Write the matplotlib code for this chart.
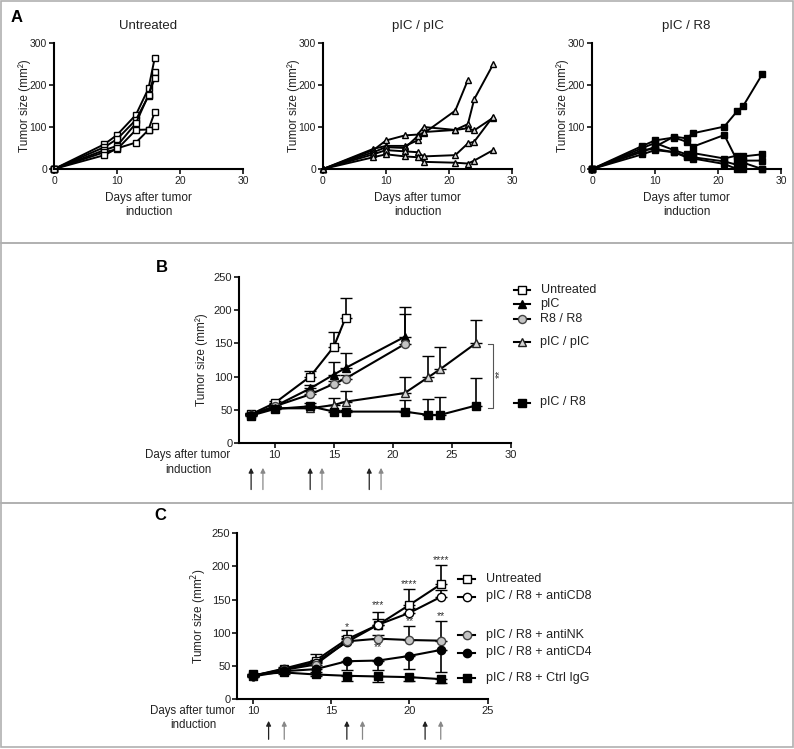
import numpy as np
import matplotlib.pyplot as plt
from matplotlib.patches import Rectangle

plt.rcParams['font.family'] = ['Liberation Sans', 'DejaVu Sans']

nan = np.nan

# ---- Panel A: individual mice ----
untreated_days = [0, 8, 10, 13, 15, 16]
untreated_mice = [
    [0, 59, 81, 129, 192, 265],
    [0, 52, 71, 117, 174, 230],
    [0, 45, 55, 109, 176, 216],
    [0, 40, 47, 93, 94, 136],
    [0, 33, 49, 63, 93, 102],
]
late_days = [0, 8, 10, 13, 15, 16, 21, 23, 24, 27]
picpic_mice = [
    [0, 48, 55, 55, 68, 85, 139, 212, nan, nan],
    [0, 45, 68, 80, 82, 100, 93, 107, 166, 249],
    [0, 40, 52, 50, 78, 88, 93, 97, 92, 122],
    [0, 35, 45, 42, 40, 30, 33, 61, 65, 125],
    [0, 28, 35, 30, 28, 17, 15, 13, 20, 45],
]
picr8_mice = [
    [0, 41, 53, 77, 73, 85, 101, 137, 150, 225],
    [0, 55, 68, 75, 65, 53, 81, 21, 15, 0],
    [0, 50, 62, 45, 35, 38, 25, 32, 30, 35],
    [0, 45, 48, 40, 28, 28, 18, 10, 20, 20],
    [0, 35, 45, 40, 30, 25, 12, 0, 0, 0],
]
a_titles = ['Untreated', 'pIC / pIC', 'pIC / R8']

# ---- Panel B: group means + SEM ----
b_days_short = [8, 10, 13, 15, 16]
b_days_mid = [8, 10, 13, 15, 16, 21]
b_days_long = [8, 10, 13, 15, 16, 21, 23, 24, 27]
b_untreated = [43, 60, 100, 145, 189]
b_untreated_sem = [2, 3, 9, 22, 30]
b_pic = [42, 55, 82, 103, 113, 160]
b_pic_sem = [2, 3, 5, 19, 23, 45]
b_r8r8 = [42, 55, 73, 89, 97, 149]
b_r8r8_sem = [2, 3, 5, 5, 5, 45]
b_picpic = [43, 52, 52, 57, 62, 75, 99, 111, 150]
b_picpic_sem = [2, 3, 4, 10, 16, 24, 32, 34, 36]
b_picr8 = [41, 51, 55, 47, 47, 47, 42, 42, 56]
b_picr8_sem = [1, 3, 5, 3, 3, 18, 24, 27, 42]
b_labels = ['Untreated', 'pIC', 'R8 / R8', 'pIC / pIC', 'pIC / R8']
b_arrow_days = [8, 9, 13, 14, 18, 19]

# ---- Panel C: depletion ----
c_days = [10, 12, 14, 16, 18, 20, 22]
c_untreated = [35, 46, 58, 90, 112, 142, 173]
c_untreated_sem = [2, 3, 10, 14, 19, 24, 29]
c_cd8 = [35, 45, 55, 86, 112, 130, 154]
c_cd8_sem = [1, 2, 4, 6, 8, 8, 10]
c_nk = [35, 44, 52, 87, 91, 89, 88]
c_nk_sem = [1, 2, 4, 8, 6, 21, 30]
c_cd4 = [34, 42, 45, 57, 58, 65, 74]
c_cd4_sem = [1, 2, 4, 13, 14, 20, 34]
c_igg = [37, 40, 37, 35, 34, 33, 30]
c_igg_sem = [1, 2, 3, 8, 8, 6, 6]
c_labels = ['Untreated', 'pIC / R8 + antiCD8', 'pIC / R8 + antiNK',
            'pIC / R8 + antiCD4', 'pIC / R8 + Ctrl IgG']
c_arrow_days = [11, 12, 16, 17, 21, 22]
c_stars_day = [16, 18, 18, 20, 20, 22, 22]
c_stars_y = [109, 142, 78, 174, 118, 210, 125]
c_stars_txt = ['*', '***', '**', '****', '**', '****', '**']

LIGHT = '#d6d6d6'
GRAY = '#c4c4c4'
styles_b = [
    dict(marker='s', mfc='white', mec='black'),
    dict(marker='^', mfc='black', mec='black'),
    dict(marker='o', mfc=GRAY, mec='#444444'),
    dict(marker='^', mfc=LIGHT, mec='#222222'),
    dict(marker='s', mfc='black', mec='black'),
]
styles_c = [
    dict(marker='s', mfc='white', mec='black'),
    dict(marker='o', mfc='white', mec='black'),
    dict(marker='o', mfc=GRAY, mec='#444444'),
    dict(marker='o', mfc='black', mec='black'),
    dict(marker='s', mfc='black', mec='black'),
]


def gp_axis(ax, xlim, ylim, xticks, yticks, size=7.5):
    ax.set_xlim(*xlim)
    ax.set_ylim(*ylim)
    ax.set_xticks(xticks)
    ax.set_yticks(yticks)
    for s in ['top', 'right']:
        ax.spines[s].set_visible(False)
    for s in ['left', 'bottom']:
        ax.spines[s].set_linewidth(1.5)
    ax.tick_params(width=1.3, length=3.5, labelsize=size, colors='#222222', pad=1.5)
    ax.patch.set_alpha(0)


W, H = 794, 749
fig = plt.figure(figsize=(W / 100, H / 100), dpi=100)

# ---- Panel A ----
a_left = [54, 323, 592]
a_data = [(untreated_days, untreated_mice, dict(marker='s', mfc='white')),
          (late_days, picpic_mice, dict(marker='^', mfc=LIGHT)),
          (late_days, picr8_mice, dict(marker='s', mfc='black'))]
for left, title, (days, mice, st) in zip(a_left, a_titles, a_data):
    ax = fig.add_axes([left / W, 1 - 169 / H, 189 / W, 126 / H])
    for m in mice:
        ax.plot(days, m, color='black', lw=1.4, marker=st['marker'], ms=5,
                mfc=st['mfc'], mec='black', mew=1.0, clip_on=False)
    gp_axis(ax, (0, 30), (0, 300), [0, 10, 20, 30], [0, 100, 200, 300])
    ax.set_title(title, fontsize=9.5, color='#222222', pad=10)
    ax.set_ylabel('Tumor size (mm²)', fontsize=8.5, color='#222222')
    ax.yaxis.set_label_coords(-0.12, 0.5)
    ax.set_xlabel('Days after tumor\ninduction', fontsize=8.5, color='#222222',
                  linespacing=1.25)
    ax.xaxis.set_label_coords(0.5, -0.18)

# ---- Panel B ----
axb = fig.add_axes([239.3 / W, 1 - 442.7 / H, 271.7 / W, 165.4 / H])
b_series = [(b_days_short, b_untreated, b_untreated_sem),
            (b_days_mid, b_pic, b_pic_sem),
            (b_days_mid, b_r8r8, b_r8r8_sem),
            (b_days_long, b_picpic, b_picpic_sem),
            (b_days_long, b_picr8, b_picr8_sem)]
for (d, y, e), st in zip(b_series, styles_b):
    axb.errorbar(d, y, yerr=[np.zeros(len(e)), e], color='black', lw=1.5,
                 marker=st['marker'], ms=5.8, mfc=st['mfc'], mec=st['mec'], mew=1.0,
                 ecolor='black', elinewidth=1.2, capsize=4, capthick=1.2, clip_on=False)
gp_axis(axb, (7, 30), (0, 250), [10, 15, 20, 25, 30], [0, 50, 100, 150, 200, 250], size=8)
axb.set_ylabel('Tumor size (mm²)', fontsize=8.5, color='#222222')
axb.yaxis.set_label_coords(-0.116, 0.5)
for i, d in enumerate(b_arrow_days):
    axb.annotate('', xy=(d, -0.135), xytext=(d, -0.30), xycoords=('data', 'axes fraction'),
                 textcoords=('data', 'axes fraction'), annotation_clip=False,
                 arrowprops=dict(arrowstyle='-|>', lw=0.9, mutation_scale=7,
                                 color='#222222' if i % 2 == 0 else '#888888'))

# ---- Panel C ----
axc = fig.add_axes([237.3 / W, 1 - 699 / H, 250.4 / W, 165.7 / H])
c_series = [(c_untreated, c_untreated_sem, 'up'),
            (c_cd8, c_cd8_sem, 'up'),
            (c_nk, c_nk_sem, 'up'),
            (c_cd4, c_cd4_sem, 'down'),
            (c_igg, c_igg_sem, 'down')]
for (y, e, dirn), st in zip(c_series, styles_c):
    z = np.zeros(len(e))
    yerr = [z, e] if dirn == 'up' else [e, z]
    axc.errorbar(c_days, y, yerr=yerr, color='black', lw=1.5,
                 marker=st['marker'], ms=6, mfc=st['mfc'], mec=st['mec'], mew=1.0,
                 ecolor='black', elinewidth=1.2, capsize=4, capthick=1.2, clip_on=False)
for d, y, t in zip(c_stars_day, c_stars_y, c_stars_txt):
    axc.text(d, y, t, ha='center', va='center', fontsize=7.5, color='#333333')
gp_axis(axc, (9, 25), (0, 250), [10, 15, 20, 25], [0, 50, 100, 150, 200, 250], size=8)
axc.set_ylabel('Tumor size (mm$^2$)', fontsize=8.5, color='#222222')
axc.yaxis.set_label_coords(-0.113, 0.5)
for i, d in enumerate(c_arrow_days):
    axc.annotate('', xy=(d, -0.115), xytext=(d, -0.26), xycoords=('data', 'axes fraction'),
                 textcoords=('data', 'axes fraction'), annotation_clip=False,
                 arrowprops=dict(arrowstyle='-|>', lw=0.9, mutation_scale=7,
                                 color='#222222' if i % 2 == 0 else '#888888'))

# ---- overlay in pixel coordinates: frames, letters, legends ----
ov = fig.add_axes([0, 0, 1, 1], zorder=10)
ov.set_xlim(0, W)
ov.set_ylim(H, 0)
ov.axis('off')
ov.patch.set_alpha(0)
for top, bot in [(1, 243), (243, 503), (503, 747)]:
    ov.add_patch(Rectangle((1, top), W - 2.5, bot - top, fill=False, ec='#b0b0b0', lw=1.2))

ov.text(17, 17, 'A', fontsize=12, fontweight='bold', ha='center', va='center')
ov.text(162, 267, 'B', fontsize=12, fontweight='bold', ha='center', va='center')
ov.text(160, 515, 'C', fontsize=12, fontweight='bold', ha='center', va='center')

ov.text(188, 449, 'Days after tumor\ninduction', fontsize=8.3, color='#222222',
        ha='center', va='top', linespacing=1.35)
ov.text(193, 705, 'Days after tumor\ninduction', fontsize=8.3, color='#222222',
        ha='center', va='top', linespacing=1.25)

# legend B
b_leg_y = [290, 303.5, 319, 341.5, 402.5]
for yy, lab, st in zip(b_leg_y, b_labels, styles_b):
    ov.plot([514, 530], [yy, yy], color='black', lw=1.5)
    ov.plot([522], [yy], marker=st['marker'], ms=5.8, mfc=st['mfc'], mec=st['mec'], mew=1.0)
    ov.text(540.5, yy, lab, fontsize=9, va='center', ha='left', color='#222222')

# significance bracket B
ov.plot([488, 492.7, 492.7, 488], [344, 344, 408, 408], color='#555555', lw=0.8)
ov.text(500, 374, '**', rotation=90, fontsize=7.5, ha='center', va='center', color='#333333')

# legend C
c_leg_y = [579, 596.5, 635, 652.5, 677.5]
for yy, lab, st in zip(c_leg_y, c_labels, styles_c):
    ov.plot([458, 475], [yy, yy], color='black', lw=1.5)
    ov.plot([466.5], [yy], marker=st['marker'], ms=6, mfc=st['mfc'], mec=st['mec'], mew=1.0)
    ov.text(486, yy, lab, fontsize=9, va='center', ha='left', color='#222222')

fig.savefig('out.png', dpi=100)
